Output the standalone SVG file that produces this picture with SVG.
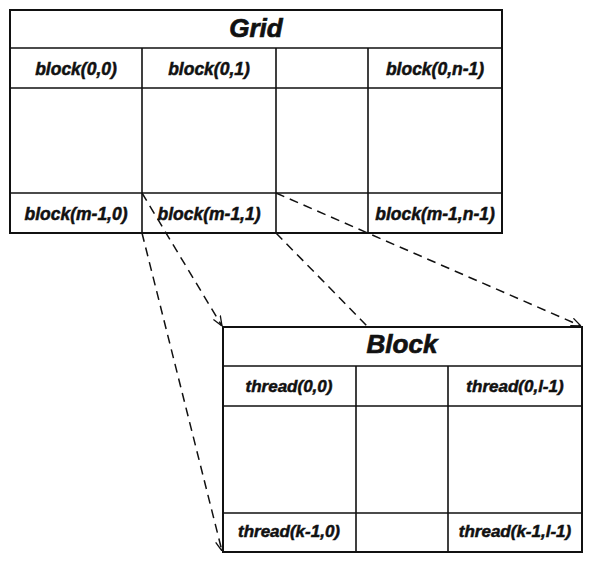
<svg xmlns="http://www.w3.org/2000/svg" width="596" height="567" viewBox="0 0 596 567">
<style>
.frame{fill:#fff;stroke:#111;stroke-width:2}
.ln{stroke:#111;stroke-width:1.6;fill:none}
.t{font-family:"Liberation Sans",Arial,sans-serif;font-weight:bold;font-style:italic;fill:#111;stroke:#111;stroke-width:0.5;text-anchor:middle}
.title{font-size:26px;stroke-width:0.7}
.cell{font-size:17.5px}
.cellb{font-size:17px}
.con{stroke:#111;stroke-width:1.5;fill:none;stroke-dasharray:9,6}
</style>
<defs>
<marker id="arr" viewBox="0 0 10 10" refX="10" refY="5" markerWidth="10" markerHeight="10" markerUnits="userSpaceOnUse" orient="auto">
<path d="M0,1 L10,5 L0,9" fill="none" stroke="#111" stroke-width="1.3"/>
</marker>
</defs>
<rect width="596" height="567" fill="#fff"/>
<g id="grid">
<rect class="frame" x="10" y="10" width="492" height="223"/>
<path class="ln" d="M10,48H502M10,88H502M10,193H502M142,48V233M276,48V233M368,48V233"/>
<text class="t title" x="256" y="37">Grid</text>
<text class="t cell" x="76" y="75">block(0,0)</text>
<text class="t cell" x="209" y="75">block(0,1)</text>
<text class="t cell" x="435" y="75">block(0,n-1)</text>
<text class="t cell" x="76" y="220">block(m-1,0)</text>
<text class="t cell" x="209" y="220">block(m-1,1)</text>
<text class="t cell" x="435" y="220">block(m-1,n-1)</text>
</g>
<g id="block">
<rect class="frame" x="223" y="327" width="359" height="225"/>
<path class="ln" d="M223,366H582M223,406H582M223,513H582M356,366V552M448,366V552"/>
<text class="t title" x="402" y="353">Block</text>
<text class="t cellb" x="289" y="392">thread(0,0)</text>
<text class="t cellb" x="515" y="392">thread(0,l-1)</text>
<text class="t cellb" x="289" y="537">thread(k-1,0)</text>
<text class="t cellb" x="515" y="537">thread(k-1,l-1)</text>
</g>
<g id="connectors">
<line class="con" x1="142" y1="233" x2="222" y2="551" marker-end="url(#arr)"/>
<line class="con" x1="142" y1="193" x2="222" y2="326" marker-end="url(#arr)"/>
<line class="con" x1="276" y1="233" x2="368" y2="327"/>
<line class="con" x1="276" y1="193" x2="581" y2="326" marker-end="url(#arr)"/>
</g>
</svg>
